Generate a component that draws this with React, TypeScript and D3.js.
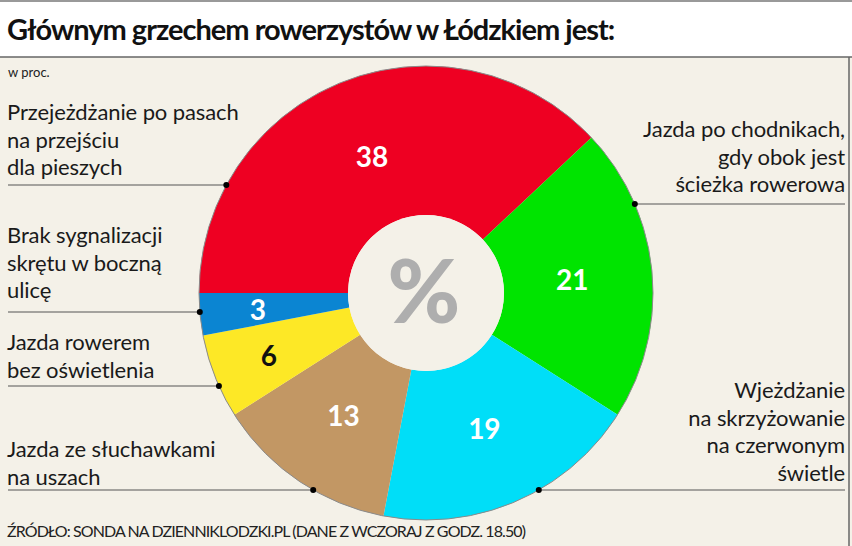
import React from "react";
import * as d3 from "d3";

const categories = [
  "Przejeżdżanie po pasach na przejściu dla pieszych",
  "Jazda po chodnikach, gdy obok jest ścieżka rowerowa",
  "Wjeżdżanie na skrzyżowanie na czerwonym świetle",
  "Jazda ze słuchawkami na uszach",
  "Jazda rowerem bez oświetlenia",
  "Brak sygnalizacji skrętu w boczną ulicę",
];
const values = [38, 21, 19, 13, 6, 3];
const labelLines = [
  ["Przejeżdżanie po pasach", "na przejściu", "dla pieszych"],
  ["Jazda po chodnikach,", "gdy obok jest", "ścieżka rowerowa"],
  ["Wjeżdżanie", "na skrzyżowanie", "na czerwonym", "świetle"],
  ["Jazda ze słuchawkami", "na uszach"],
  ["Jazda rowerem", "bez oświetlenia"],
  ["Brak sygnalizacji", "skrętu w boczną", "ulicę"],
];
const colors = ["#ee0022", "#00e400", "#00def8", "#c29764", "#fde826", "#0b85d2"];
const numberColors = ["#fff", "#fff", "#fff", "#fff", "#111", "#fff"];

const title = "Głównym grzechem rowerzystów w Łódzkiem jest:";
const unitNote = "w proc.";
const source = "ŹRÓDŁO: SONDA NA DZIENNIKLODZKI.PL (DANE Z WCZORAJ Z GODZ. 18.50)";

// layout (not data)
const W = 852, H = 546;
const cx = 426, cy = 293, R = 227, r0 = 78;
const side = ["left", "right", "right", "left", "left", "left"];
const leaderY = [185, 204, 490, 490, 386, 312];
const firstBaseline = [120, 137, 398, 457, 350, 243];
const lineH = 27.5;
const font = "Lato, 'Open Sans', sans-serif";

export default function App() {
  const pie = d3
    .pie<number>()
    .sort(null)
    .value((d) => d)
    .startAngle(-Math.PI / 2)
    .endAngle((3 * Math.PI) / 2);
  const arcs = pie(values);
  const arc = d3.arc<d3.PieArcDatum<number>>().innerRadius(r0).outerRadius(R);

  return (
    <svg width={W} height={H} style={{ position: "absolute", left: 0, top: 0, display: "block" }} fontFamily={font}>
      <rect x={0} y={0} width={W} height={H} fill="#f4f1e8" />
      <rect x={0} y={0} width={W} height={57} fill="#ffffff" />
      <line x1={0} x2={W} y1={1} y2={1} stroke="#777" strokeWidth={1.5} />
      <line x1={0} x2={W} y1={57} y2={57} stroke="#666" strokeWidth={1.5} />
      <line x1={849} x2={849} y1={57} y2={H} stroke="#666" strokeWidth={1.5} />
      <text x={7} y={40} fontSize={29} fontWeight={700} fill="#111" letterSpacing={-1.0}>
        {title}
      </text>
      <text x={8} y={77} fontSize={13} fill="#222">
        {unitNote}
      </text>

      <g transform={`translate(${cx},${cy})`}>
        {arcs.map((a, i) => (
          <path key={i} d={arc(a) || ""} fill={colors[i]} />
        ))}
        <circle r={R} fill="none" stroke="#8a8a8a" strokeWidth={1} />
        <circle r={r0} fill="#f4f1e8" />
        <text x={-2} y={-4} fontSize={88} fontWeight={900} fill="#aeaeae" textAnchor="middle" dominantBaseline="central">
          %
        </text>
        {arcs.map((a, i) => {
          const lr = a.data < 10 ? 169 : 147;
          const [x, y] = d3.arc<d3.PieArcDatum<number>>().innerRadius(lr).outerRadius(lr).centroid(a);
          return (
            <text key={i} x={x} y={y} fontSize={28} fontWeight={700} fill={numberColors[i]} textAnchor="middle" dominantBaseline="central">
              {a.data}
            </text>
          );
        })}
      </g>

      {arcs.map((a, i) => {
        const ly = leaderY[i];
        const dx = Math.sqrt(R * R - (ly - cy) * (ly - cy));
        const isLeft = side[i] === "left";
        const dotX = isLeft ? cx - dx : cx + dx;
        const x1 = isLeft ? 8 : dotX;
        const x2 = isLeft ? dotX : 845;
        return (
          <g key={i}>
            <line x1={x1} x2={x2} y1={ly} y2={ly} stroke="#555" strokeWidth={1} />
            <circle cx={dotX} cy={ly} r={3} fill="#000" />
            {labelLines[i].map((t, j) => (
              <text
                key={j}
                x={isLeft ? 7 : 845}
                y={firstBaseline[i] + j * lineH}
                fontSize={22}
                fill="#1a1a1a"
                textAnchor={isLeft ? "start" : "end"}
                letterSpacing={-0.1}
              >
                {t}
              </text>
            ))}
          </g>
        );
      })}

      <text x={7} y={537} fontSize={16} fill="#222" letterSpacing={-0.9}>
        {source}
      </text>
    </svg>
  );
}
